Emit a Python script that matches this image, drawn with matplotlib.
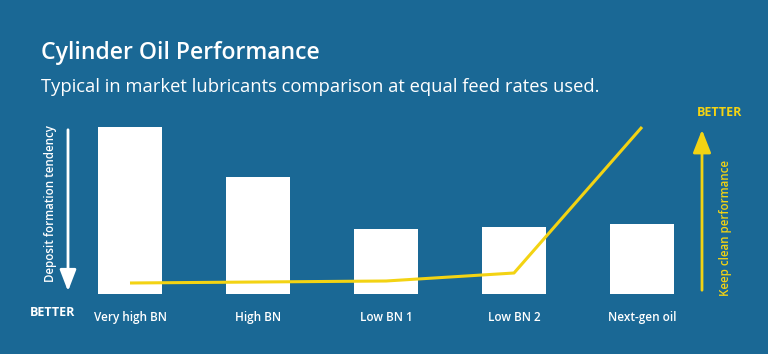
import matplotlib.pyplot as plt
import numpy as np

# chart data
categories = ["Very high BN", "High BN", "Low BN 1", "Low BN 2", "Next-gen oil"]
deposit_tendency = [167, 117, 65, 67, 70]
keep_clean = [11, 12, 13, 21, 167]

bg = "#1a6895"
yellow = "#f3d313"

plt.rcParams['font.family'] = ['Open Sans', 'DejaVu Sans']

fig = plt.figure(figsize=(7.68, 3.54), dpi=100, facecolor=bg)
W, H = 768, 354

# axes laid out in pixel terms of the reference
ax = fig.add_axes([66 / W, (H - 294) / H, 640 / W, 170 / H])
ax.set_facecolor(bg)
x = np.arange(len(categories))
ax.bar(x, deposit_tendency, width=0.5, color="white", zorder=2)
ax.plot(x, keep_clean, color=yellow, lw=2.2, zorder=3, solid_capstyle="butt")
ax.set_xlim(-0.5, len(categories) - 0.5)
ax.set_ylim(0, 170)
ax.set_xticks(x)
ax.set_xticklabels(categories, color="white", fontsize=8.5, fontweight="semibold")
ax.tick_params(axis="x", length=0, pad=12)
ax.set_yticks([])
for s in ax.spines.values():
    s.set_visible(False)

# title and subtitle
fig.text(41 / W, 1 - 53 / H, "Cylinder Oil Performance", color="white",
         fontsize=16.6, fontweight="semibold", va="center", ha="left")
fig.text(41 / W, 1 - 87 / H, "Typical in market lubricants comparison at equal feed rates used.",
         color="white", fontsize=13.2, va="center", ha="left")

# left arrow: deposit formation tendency
fig.add_artist(plt.Annotation("", xy=(68 / W, 1 - 294 / H), xytext=(68 / W, 1 - 127 / H),
                              xycoords="figure fraction", textcoords="figure fraction",
                              arrowprops=dict(arrowstyle="-|>,head_length=1.3,head_width=0.5",
                                              color="white", lw=2)))
fig.text(51 / W, 1 - 204 / H, "Deposit formation tendency", color="white", fontsize=8.3,
         fontweight="semibold", rotation=90, ha="center", va="center")
fig.text(53 / W, 1 - 313 / H, "BETTER", color="white", fontsize=9,
         fontweight="bold", ha="center", va="center")

# right arrow: keep clean performance
fig.add_artist(plt.Annotation("", xy=(702 / W, 1 - 127 / H), xytext=(702 / W, 1 - 293 / H),
                              xycoords="figure fraction", textcoords="figure fraction",
                              arrowprops=dict(arrowstyle="-|>,head_length=1.4,head_width=0.55",
                                              color=yellow, lw=2)))
fig.text(725 / W, 1 - 228 / H, "Keep clean performance", color=yellow, fontsize=8.3,
         fontweight="semibold", rotation=90, ha="center", va="center")
fig.text(720 / W, 1 - 112 / H, "BETTER", color=yellow, fontsize=9,
         fontweight="bold", ha="center", va="center")

fig.savefig("out.png", dpi=100, facecolor=bg)
